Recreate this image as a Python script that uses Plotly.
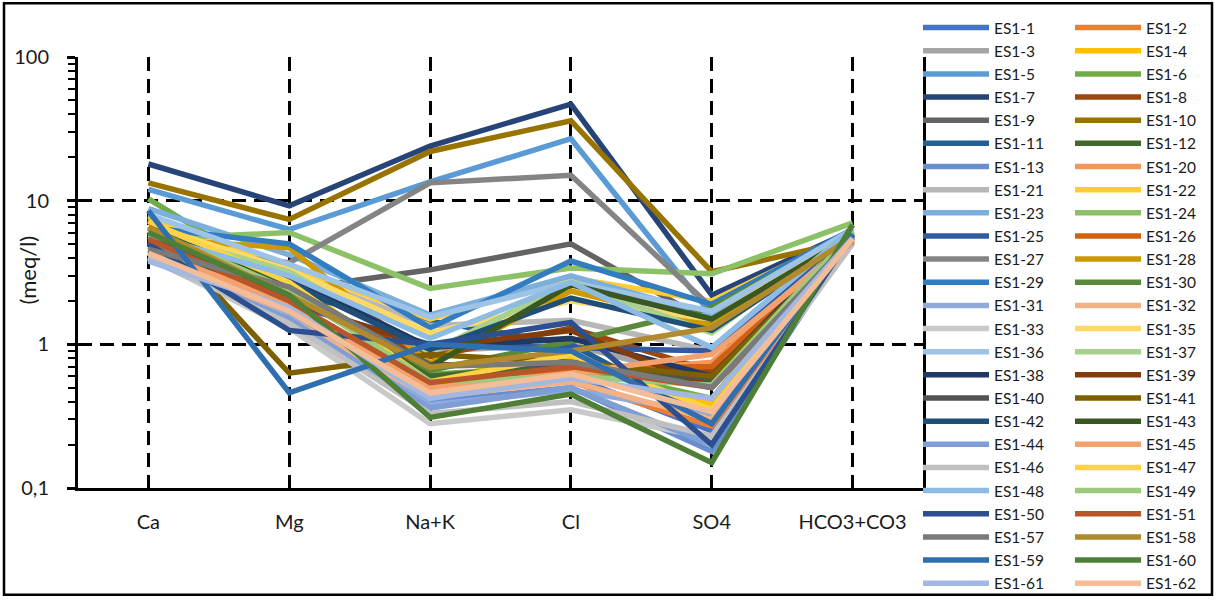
import plotly.graph_objects as go

# ---------------- data ----------------
categories = ["Ca", "Mg", "Na+K", "Cl", "SO4", "HCO3+CO3"]

samples = ["ES1-1", "ES1-2", "ES1-3", "ES1-4", "ES1-5", "ES1-6", "ES1-7", "ES1-8", "ES1-9", "ES1-10",
           "ES1-11", "ES1-12", "ES1-13", "ES1-20", "ES1-21", "ES1-22", "ES1-23", "ES1-24", "ES1-25", "ES1-26",
           "ES1-27", "ES1-28", "ES1-29", "ES1-30", "ES1-31", "ES1-32", "ES1-33", "ES1-35", "ES1-36", "ES1-37",
           "ES1-38", "ES1-39", "ES1-40", "ES1-41", "ES1-42", "ES1-43", "ES1-44", "ES1-45", "ES1-46", "ES1-47",
           "ES1-48", "ES1-49", "ES1-50", "ES1-51", "ES1-57", "ES1-58", "ES1-59", "ES1-60", "ES1-61", "ES1-62"]

colors = ["#4472C4", "#ED7D31", "#A5A5A5", "#FFC000", "#5B9BD5", "#70AD47", "#264478", "#9E480E", "#636363", "#997300",
          "#255E91", "#43682B", "#698ED0", "#F1975A", "#B7B7B7", "#FFCD33", "#7CAFDD", "#8CC168", "#335AA1", "#D26012",
          "#848484", "#CC9A00", "#327DC2", "#5A8A39", "#8FAADC", "#F4B183", "#C9C9C9", "#FFD966", "#9DC3E6", "#A9D18E",
          "#203864", "#843C0C", "#525252", "#7F6000", "#1F4E79", "#385723", "#7F9ED6", "#F3A26D", "#C0C0C0", "#FFD343",
          "#8DBBE3", "#9CCB7E", "#2B4F8F", "#B8562A", "#7A7A7A", "#B08A2C", "#2F6FAF", "#4F7F36", "#A3B8E0", "#F5BC98"]

# concentrations in meq/l: Ca, Mg, Na+K, Cl, SO4, HCO3+CO3
es1_1 = [5.6, 2.0, 0.50, 0.60, 0.25, 5.8]
es1_2 = [5.0, 1.8, 0.45, 0.55, 0.27, 5.5]
es1_3 = [4.4, 3.0, 0.90, 1.00, 0.55, 5.3]
es1_4 = [7.8, 2.8, 0.58, 0.82, 0.38, 5.9]
es1_5 = [12.0, 6.3, 13.5, 27.0, 1.6, 6.0]
es1_6 = [10.3, 2.6, 0.62, 0.70, 0.42, 6.1]
es1_7 = [18.0, 9.2, 24.0, 47.0, 2.2, 6.2]
es1_8 = [5.2, 2.1, 0.82, 1.30, 0.65, 5.2]
es1_9 = [5.2, 2.4, 3.3, 5.0, 1.4, 5.6]
es1_10 = [13.3, 7.4, 22.0, 36.0, 3.2, 5.3]
es1_11 = [5.0, 2.2, 1.45, 1.00, 0.30, 5.7]
es1_12 = [6.6, 2.3, 0.60, 0.72, 0.55, 5.5]
es1_13 = [4.8, 1.7, 0.40, 0.50, 0.18, 5.6]
es1_20 = [4.5, 2.0, 0.48, 0.62, 0.75, 5.3]
es1_21 = [4.2, 3.2, 1.35, 1.47, 0.90, 5.6]
es1_22 = [7.5, 3.5, 1.50, 2.90, 2.0, 6.0]
es1_23 = [8.8, 4.2, 1.60, 3.00, 1.6, 6.4]
es1_24 = [5.4, 6.0, 2.45, 3.40, 3.1, 7.0]
es1_25 = [6.0, 1.9, 1.00, 0.95, 0.90, 6.2]
es1_26 = [5.1, 1.8, 0.52, 0.67, 0.70, 5.4]
es1_27 = [4.7, 3.7, 13.3, 15.0, 1.8, 5.8]
es1_28 = [5.4, 4.7, 0.74, 2.35, 1.35, 5.4]
es1_29 = [6.5, 5.0, 1.30, 3.80, 1.9, 6.3]
es1_30 = [6.2, 2.5, 0.66, 1.05, 1.8, 6.0]
es1_31 = [4.1, 1.6, 0.38, 0.48, 0.33, 5.7]
es1_32 = [4.3, 1.5, 0.43, 0.55, 0.30, 5.2]
es1_33 = [4.0, 1.3, 0.28, 0.35, 0.22, 5.2]
es1_35 = [6.8, 3.3, 1.20, 2.00, 1.5, 6.0]
es1_36 = [8.0, 3.6, 1.55, 2.70, 1.7, 6.3]
es1_37 = [6.1, 3.2, 0.88, 2.70, 1.2, 6.2]
es1_38 = [6.0, 2.9, 0.95, 1.10, 0.60, 5.8]
es1_39 = [5.8, 2.0, 0.95, 1.25, 0.50, 5.4]
es1_40 = [4.5, 2.4, 0.72, 0.72, 0.58, 5.1]
es1_41 = [7.3, 0.63, 0.85, 0.75, 0.60, 5.5]
es1_42 = [5.3, 2.7, 0.92, 2.10, 1.25, 5.6]
es1_43 = [6.4, 2.5, 0.70, 2.60, 1.5, 5.7]
es1_44 = [3.9, 1.5, 0.36, 0.50, 0.20, 5.6]
es1_45 = [4.6, 1.9, 0.50, 0.63, 0.85, 5.2]
es1_46 = [4.0, 1.4, 0.33, 0.40, 0.23, 5.0]
es1_47 = [7.2, 2.7, 0.55, 0.85, 0.35, 5.7]
es1_48 = [5.8, 3.0, 1.10, 2.70, 0.95, 6.4]
es1_49 = [6.3, 2.4, 0.55, 0.60, 0.52, 6.0]
es1_50 = [5.0, 1.25, 1.00, 1.42, 0.20, 5.8]
es1_51 = [5.4, 2.0, 0.54, 0.70, 0.50, 5.3]
es1_57 = [4.6, 2.5, 0.70, 0.75, 0.50, 5.5]
es1_58 = [6.5, 2.2, 0.69, 0.90, 1.30, 5.6]
es1_59 = [8.5, 0.46, 1.00, 0.90, 0.28, 5.9]
es1_60 = [6.0, 2.2, 0.31, 0.45, 0.15, 6.8]
es1_61 = [3.8, 1.8, 0.42, 0.58, 0.42, 5.5]
es1_62 = [4.3, 1.7, 0.46, 0.62, 0.34, 5.4]

series_values = [es1_1, es1_2, es1_3, es1_4, es1_5, es1_6, es1_7, es1_8, es1_9, es1_10,
                 es1_11, es1_12, es1_13, es1_20, es1_21, es1_22, es1_23, es1_24, es1_25, es1_26,
                 es1_27, es1_28, es1_29, es1_30, es1_31, es1_32, es1_33, es1_35, es1_36, es1_37,
                 es1_38, es1_39, es1_40, es1_41, es1_42, es1_43, es1_44, es1_45, es1_46, es1_47,
                 es1_48, es1_49, es1_50, es1_51, es1_57, es1_58, es1_59, es1_60, es1_61, es1_62]

y_tickvals = [0.1, 1, 10, 100]
y_ticktext = ["0,1", "1", "10", "100"]

# ---------------- layout geometry (pixels) ----------------
W, H = 1222, 600
L, R, T, B = 78, 923, 56, 488
PW, PH = R - L, B - T


def px_x(p):
    return (p - L) / PW


def px_y(p):
    return (B - p) / PH


FONT = "Lato"
TXT = "#1a1a1a"

fig = go.Figure()
for i, (name, vals, col) in enumerate(zip(samples, series_values, colors)):
    fig.add_trace(go.Scatter(
        x=categories, y=vals, name=name, mode="lines",
        line=dict(color=col, width=5.5),
        legend="legend" if i % 2 == 0 else "legend2",
        legendgroup=name,
        hoverinfo="name+y",
    ))

legend_common = dict(
    font=dict(family=FONT, size=15.5, color=TXT),
    bgcolor="rgba(0,0,0,0)", borderwidth=0,
    orientation="v", traceorder="grouped", tracegroupgap=0,
    itemwidth=66, xanchor="left", yanchor="top", maxheight=600,
)

minor_vals = [v * m for v in (0.1, 1, 10) for m in range(2, 10)]

fig.update_layout(
    width=W, height=H,
    margin=dict(l=L, r=W - R, t=T, b=H - B),
    paper_bgcolor="white", plot_bgcolor="white",
    showlegend=True,
    legend=dict(x=px_x(918), y=px_y(11), **legend_common),
    legend2=dict(x=px_x(1070), y=px_y(11), **legend_common),
    xaxis=dict(
        type="category", range=[-0.5, 5.5],
        showline=True, linecolor="black", linewidth=3,
        showgrid=True, gridcolor="black", gridwidth=3, griddash="14px,8px",
        ticks="", ticklabelstandoff=14,
        tickfont=dict(family=FONT, size=20, color=TXT),
        zeroline=False,
    ),
    yaxis=dict(
        type="log", range=[-1, 2],
        tickmode="array", tickvals=y_tickvals, ticktext=y_ticktext,
        ticks="outside", ticklen=8, tickwidth=3, tickcolor="black",
        ticklabelstandoff=14,
        minor=dict(tickmode="array", tickvals=minor_vals, ticks="outside",
                   ticklen=7, tickwidth=2, tickcolor="black", showgrid=False),
        showline=True, linecolor="black", linewidth=3, mirror=True,
        showgrid=True, gridcolor="black", gridwidth=3, griddash="14px,8px",
        tickfont=dict(family=FONT, size=20, color=TXT),
        zeroline=False,
    ),
    annotations=[dict(
        text="(meq/l)", x=px_x(28), y=px_y(270), xref="paper", yref="paper",
        textangle=-90, showarrow=False, xanchor="center", yanchor="middle",
        font=dict(family=FONT, size=22, color=TXT),
    )],
    shapes=[dict(
        type="rect", xref="paper", yref="paper", layer="above",
        x0=px_x(4), x1=px_x(1212), y0=px_y(595), y1=px_y(2),
        line=dict(color="black", width=2.5), fillcolor="rgba(0,0,0,0)",
    )],
)

fig.write_html("out.html")
